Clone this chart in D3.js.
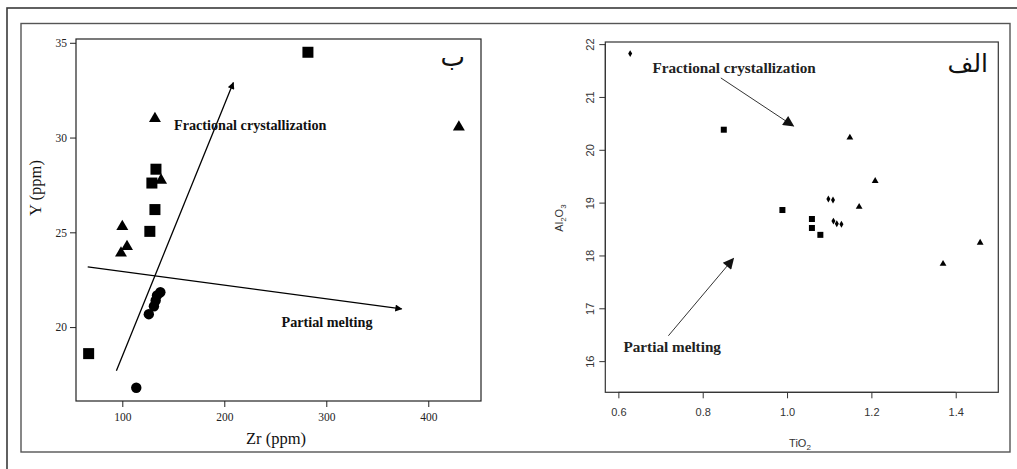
<!DOCTYPE html>
<html>
<head>
<meta charset="utf-8">
<script src="https://cdn.jsdelivr.net/npm/d3@7"></script>
<style>
  html, body { margin: 0; padding: 0; background: #fff; }
  svg { display: block; }
</style>
</head>
<body>
<svg id="chart" width="1017" height="469"></svg>
<script>
// ---- Panel B: Y vs Zr (ppm) ----
const zrSquares = [282, 133, 129, 132, 127, 67];
const ySquares  = [34.5, 28.33, 27.6, 26.2, 25.05, 18.6];
const zrTriangles = [132, 138, 100, 104.6, 98.7, 430];
const yTriangles  = [31.0, 27.75, 25.3, 24.25, 23.9, 30.55];
const zrCircles = [137.3, 134, 132.7, 131, 126, 113.7];
const yCircles  = [21.84, 21.67, 21.4, 21.1, 20.68, 16.8];
const zrTicks = [100, 200, 300, 400];
const yTicksB = [20, 25, 30, 35];
// trend arrows [x0, y0, x1, y1]
const fcArrowB = [94.2, 17.7, 208.9, 32.9];
const pmArrowB = [66.1, 23.18, 373.9, 20.96];

// ---- Panel A: Al2O3 vs TiO2 ----
const tiDiamonds = [0.628, 1.098, 1.109, 1.11, 1.118, 1.129];
const alDiamonds = [21.82, 19.07, 19.05, 18.65, 18.60, 18.59];
const tiSquares = [0.85, 0.989, 1.059, 1.059, 1.079];
const alSquares = [20.38, 18.86, 18.69, 18.52, 18.39];
const tiTriangles = [1.149, 1.209, 1.171, 1.37, 1.458];
const alTriangles = [20.23, 19.41, 18.92, 17.84, 18.24];
const tiTicks = [0.6, 0.8, 1.0, 1.2, 1.4];
const alTicks = [16, 17, 18, 19, 20, 21, 22];
const fcArrowA = [0.843, 21.36, 1.015, 20.45];
const pmArrowA = [0.7186, 16.48, 0.8727, 17.94];

const svg = d3.select("#chart");
const serif = "'Liberation Serif', 'Times New Roman', serif";
const sans = "'Liberation Sans', Arial, sans-serif";
const arabic = "'DejaVu Sans', 'Noto Sans', sans-serif";

// frames
svg.append("rect").attr("x", 7).attr("y", 8).attr("width", 1030).attr("height", 480)
  .attr("fill", "none").attr("stroke", "#3a3a3a").attr("stroke-width", 1.6);
svg.append("rect").attr("x", 21).attr("y", 23.5).attr("width", 989).attr("height", 428.5)
  .attr("fill", "none").attr("stroke", "#555").attr("stroke-width", 1.4);

// arrowhead markers
const defs = svg.append("defs");
defs.append("marker").attr("id", "headSmall")
  .attr("viewBox", "0 0 10 10").attr("refX", 9).attr("refY", 5)
  .attr("markerWidth", 9).attr("markerHeight", 7).attr("markerUnits", "userSpaceOnUse")
  .attr("orient", "auto")
  .append("path").attr("d", "M0,0 L10,5 L0,10 Z").attr("fill", "#000");
defs.append("marker").attr("id", "headBig")
  .attr("viewBox", "0 0 10 10").attr("refX", 9).attr("refY", 5)
  .attr("markerWidth", 16).attr("markerHeight", 11).attr("markerUnits", "userSpaceOnUse")
  .attr("orient", "auto")
  .append("path").attr("d", "M0,0 L10,5 L0,10 Z").attr("fill", "#111");

// ================= Panel B =================
const xB = d3.scaleLinear().domain([54.6, 451.7]).range([76, 481]);
const yB = d3.scaleLinear().domain([16.1, 35.2]).range([401, 39]);
const gB = svg.append("g");

gB.append("rect").attr("x", 76).attr("y", 39).attr("width", 405).attr("height", 362)
  .attr("fill", "none").attr("stroke", "#222").attr("stroke-width", 1.2);

const axBx = gB.append("g").attr("transform", "translate(0,401)")
  .call(d3.axisBottom(xB).tickValues(zrTicks).tickSize(6).tickPadding(6).tickFormat(d3.format("d")));
const axBy = gB.append("g").attr("transform", "translate(76,0)")
  .call(d3.axisLeft(yB).tickValues(yTicksB).tickSize(6).tickPadding(3).tickFormat(d3.format("d")));
[axBx, axBy].forEach(a => {
  a.select(".domain").remove();
  a.selectAll("line").attr("stroke", "#222");
  a.selectAll("text").attr("font-family", serif).attr("font-size", 11.5).attr("fill", "#222");
});

gB.append("text").attr("x", 276).attr("y", 444).attr("text-anchor", "middle")
  .attr("font-family", serif).attr("font-size", 16.5).attr("fill", "#111").text("Zr (ppm)");
gB.append("text").attr("transform", "translate(41,188) rotate(-90)").attr("text-anchor", "middle")
  .attr("font-family", serif).attr("font-size", 16.5).attr("fill", "#111").text("Y (ppm)");

// arrows
gB.append("line").attr("x1", xB(fcArrowB[0])).attr("y1", yB(fcArrowB[1]))
  .attr("x2", xB(fcArrowB[2])).attr("y2", yB(fcArrowB[3]))
  .attr("stroke", "#000").attr("stroke-width", 1.3).attr("marker-end", "url(#headSmall)");
gB.append("line").attr("x1", xB(pmArrowB[0])).attr("y1", yB(pmArrowB[1]))
  .attr("x2", xB(pmArrowB[2])).attr("y2", yB(pmArrowB[3]))
  .attr("stroke", "#000").attr("stroke-width", 1.3).attr("marker-end", "url(#headSmall)");

gB.append("text").attr("x", 174).attr("y", 130)
  .attr("font-family", serif).attr("font-weight", "bold").attr("font-size", 14.2).attr("fill", "#111")
  .text("Fractional crystallization");
gB.append("text").attr("x", 281.5).attr("y", 327)
  .attr("font-family", serif).attr("font-weight", "bold").attr("font-size", 14.2).attr("fill", "#111")
  .text("Partial melting");
gB.append("text").attr("x", 465).attr("y", 66).attr("text-anchor", "end")
  .attr("font-family", arabic).attr("font-size", 26).attr("fill", "#111").text("ب");

// markers
gB.selectAll(".sqB").data(zrSquares).join("rect")
  .attr("x", (d, i) => xB(d) - 5.5).attr("y", (d, i) => yB(ySquares[i]) - 5.5)
  .attr("width", 11).attr("height", 11).attr("fill", "#000");
gB.selectAll(".trB").data(zrTriangles).join("path")
  .attr("d", d3.symbol(d3.symbolTriangle, 62))
  .attr("transform", (d, i) => `translate(${xB(d)},${yB(yTriangles[i])})`).attr("fill", "#000");
gB.selectAll(".ciB").data(zrCircles).join("circle")
  .attr("cx", d => xB(d)).attr("cy", (d, i) => yB(yCircles[i])).attr("r", 5.2).attr("fill", "#000");

// ================= Panel A =================
const xA = d3.scaleLinear().domain([0.569, 1.501]).range([605.3, 998.3]);
const yA = d3.scaleLinear().domain([15.41, 22.04]).range([392.3, 42]);
const gA = svg.append("g");

gA.append("rect").attr("x", 605.3).attr("y", 42).attr("width", 393).attr("height", 350.3)
  .attr("fill", "none").attr("stroke", "#333").attr("stroke-width", 1.2);

const axAx = gA.append("g").attr("transform", "translate(0,392.3)")
  .call(d3.axisBottom(xA).tickValues(tiTicks).tickSize(6).tickPadding(10).tickFormat(d3.format(".1f")));
const axAy = gA.append("g").attr("transform", "translate(605.3,0)")
  .call(d3.axisLeft(yA).tickValues(alTicks).tickSize(6).tickFormat(d3.format("d")));
axAx.select(".domain").attr("d", `M${xA(0.6)},0H${xA(1.4)}`).attr("stroke", "#333");
axAy.select(".domain").attr("d", `M0,${yA(16)}V${yA(22)}`).attr("stroke", "#333");
axAx.selectAll("line").attr("stroke", "#333");
axAy.selectAll("line").attr("stroke", "#333");
axAx.selectAll("text").attr("font-family", sans).attr("font-size", 11).attr("fill", "#333");
axAy.selectAll("text").attr("font-family", sans).attr("font-size", 11).attr("fill", "#333")
  .attr("text-anchor", "middle").attr("x", null)
  .attr("transform", "translate(-15,0) rotate(-90)").attr("dy", "0.35em");

// axis titles with subscripts
const tiT = gA.append("text").attr("x", 800).attr("y", 447).attr("text-anchor", "middle")
  .attr("font-family", sans).attr("font-size", 11).attr("fill", "#333");
tiT.append("tspan").text("TiO");
tiT.append("tspan").attr("font-size", 8).attr("dy", 3).text("2");
const alT = gA.append("text").attr("transform", "translate(563,218) rotate(-90)").attr("text-anchor", "middle")
  .attr("font-family", sans).attr("font-size", 11).attr("fill", "#333");
alT.append("tspan").text("Al");
alT.append("tspan").attr("font-size", 8).attr("dy", 3).text("2");
alT.append("tspan").attr("dy", -3).text("O");
alT.append("tspan").attr("font-size", 8).attr("dy", 3).text("3");

// arrows
gA.append("line").attr("x1", xA(fcArrowA[0])).attr("y1", yA(fcArrowA[1]))
  .attr("x2", xA(fcArrowA[2])).attr("y2", yA(fcArrowA[3]))
  .attr("stroke", "#333").attr("stroke-width", 1).attr("marker-end", "url(#headBig)");
gA.append("line").attr("x1", xA(pmArrowA[0])).attr("y1", yA(pmArrowA[1]))
  .attr("x2", xA(pmArrowA[2])).attr("y2", yA(pmArrowA[3]))
  .attr("stroke", "#333").attr("stroke-width", 1).attr("marker-end", "url(#headBig)");

gA.append("text").attr("x", 652.5).attr("y", 73)
  .attr("font-family", serif).attr("font-weight", "bold").attr("font-size", 15.2).attr("fill", "#222")
  .text("Fractional crystallization");
gA.append("text").attr("x", 623.5).attr("y", 352)
  .attr("font-family", serif).attr("font-weight", "bold").attr("font-size", 15.2).attr("fill", "#222")
  .text("Partial melting");
gA.append("text").attr("x", 988).attr("y", 72).attr("text-anchor", "end")
  .attr("font-family", arabic).attr("font-size", 25).attr("fill", "#111").text("الف");

// markers
gA.selectAll(".diA").data(tiDiamonds).join("path")
  .attr("d", d3.symbol(d3.symbolDiamond, 14))
  .attr("transform", (d, i) => `translate(${xA(d)},${yA(alDiamonds[i])})`).attr("fill", "#000");
gA.selectAll(".sqA").data(tiSquares).join("rect")
  .attr("x", d => xA(d) - 3).attr("y", (d, i) => yA(alSquares[i]) - 3)
  .attr("width", 6).attr("height", 6).attr("fill", "#000");
gA.selectAll(".trA").data(tiTriangles).join("path")
  .attr("d", d3.symbol(d3.symbolTriangle, 20))
  .attr("transform", (d, i) => `translate(${xA(d)},${yA(alTriangles[i])})`).attr("fill", "#000");
</script>
</body>
</html>
